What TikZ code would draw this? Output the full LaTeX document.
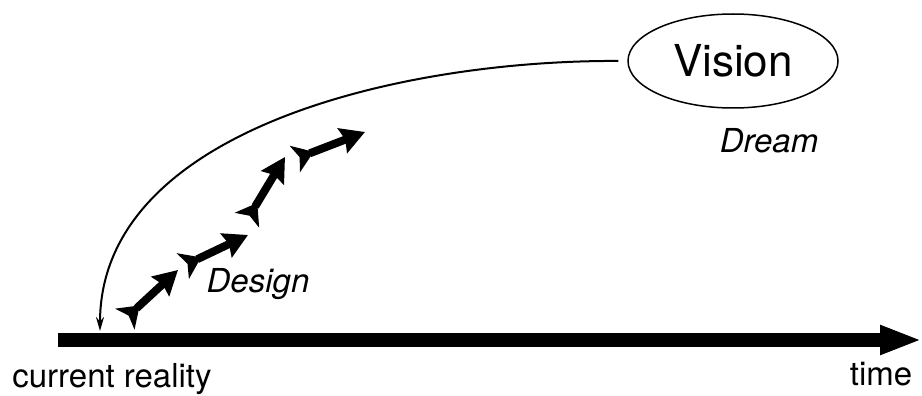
\documentclass[tikz,border=0pt]{standalone}
\usepackage{fontspec}
\setmainfont{TeX Gyre Heros}
\usetikzlibrary{arrows.meta, shapes.geometric}

\begin{document}
\begin{tikzpicture}[x=1pt, y=-1pt, >={Stealth[length=14pt, width=8pt]},
  every node/.style={font=\fontsize{33}{36}\selectfont},
  stride/.style={line width=8pt,
    {Stealth[reversed, length=20pt, width=28pt, inset=5pt]}-{Stealth[length=24pt, width=26pt, inset=3pt]}}]
\useasboundingbox (0,0) rectangle (922,396);
% time axis
\coordinate (now) at (58,340);
\coordinate (future) at (922,340);
\draw[line width=14pt, -{Triangle[length=42pt, width=27pt]}] (now) -- (future);
\node[anchor=base] (reality) at (112,387) {current reality};
\node[anchor=base] (time) at (881,385) {time};
% vision
\node[draw, ellipse, line width=1.5pt, minimum width=210pt, minimum height=94pt, inner sep=0pt,
  font=\fontsize{44}{48}\selectfont] (vision) at (733,61) {Vision};
\node[anchor=base, font=\fontsize{33}{36}\itshape] (dream) at (769,152) {Dream};
% back from the vision to now
\coordinate (landing) at (100,331);
\draw[line width=2pt, ->, shorten <=9pt] (vision.west) .. controls (400,60) and (100,130) .. (landing);
% design steps
\coordinate (s1a) at (125,319); \coordinate (s1b) at (178,270);
\coordinate (s2a) at (183,266); \coordinate (s2b) at (248,235);
\coordinate (s3a) at (247,220); \coordinate (s3b) at (285,157);
\coordinate (s4a) at (295,159); \coordinate (s4b) at (365,132);
\draw[stride] (s1a) -- (s1b);
\draw[stride] (s2a) -- (s2b);
\draw[stride] (s3a) -- (s3b);
\draw[stride] (s4a) -- (s4b);
\node[anchor=base, font=\fontsize{33}{36}\itshape] (design) at (258,292) {Design};
\end{tikzpicture}
\end{document}
